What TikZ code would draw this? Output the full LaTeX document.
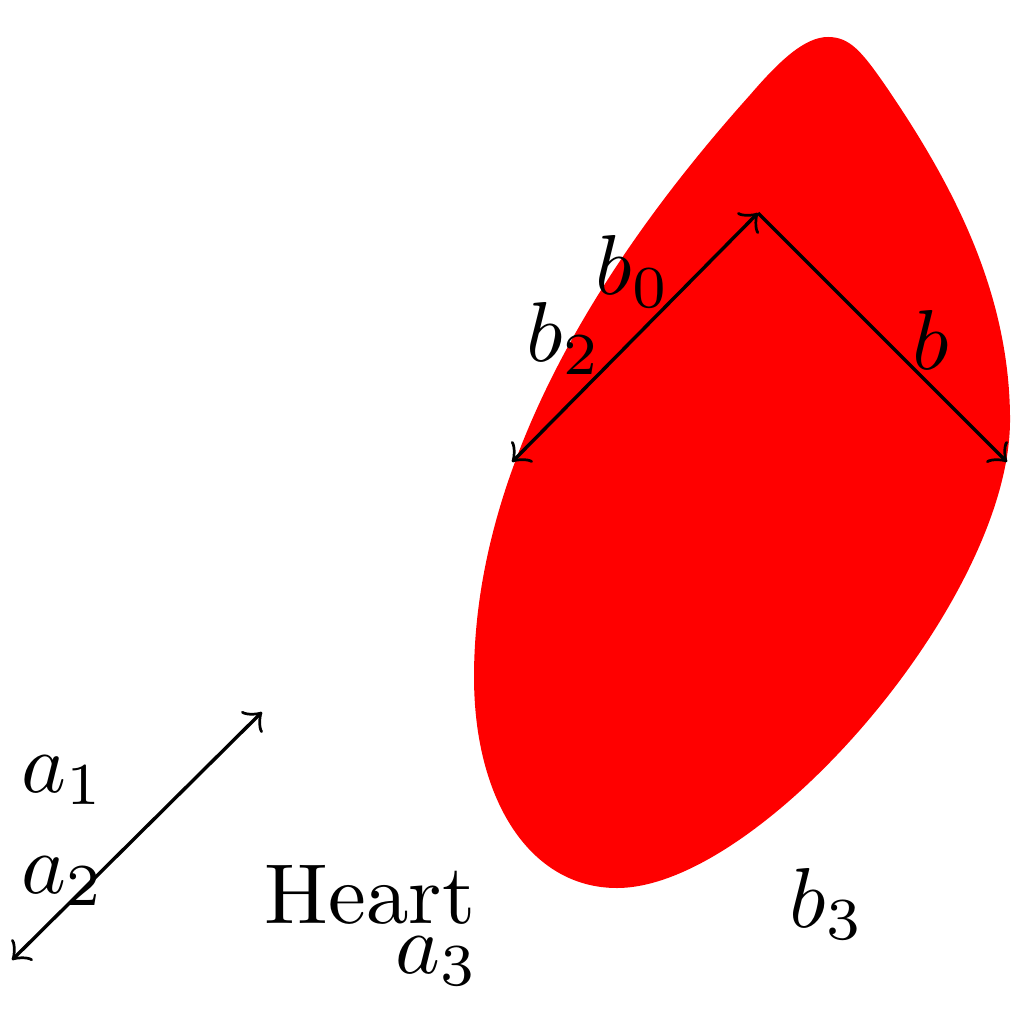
\documentclass[tikz,border=0pt]{standalone}
\begin{document}
\begin{tikzpicture}[x=0.1176pt,y=-0.1176pt,
  lbl/.style={inner sep=0pt,anchor=base west},
  arr/.style={line width=0.4pt}]
\useasboundingbox (0,0) rectangle (1024,1024);
\fill[red] (828,37) .. controls (805,37) and (780,60) .. (750,95)
  .. controls (620,240) and (474,450) .. (474,677)
  .. controls (474,800) and (530,888) .. (617,888)
  .. controls (760,888) and (1010,600) .. (1010,420)
  .. controls (1010,290) and (950,180) .. (885,85)
  .. controls (862,52) and (850,37) .. (828,37) -- cycle;
\coordinate (T) at (758,213);
\coordinate (L) at (512,462);
\coordinate (R) at (1007,462);
\coordinate (A1) at (12,960);
\coordinate (A2) at (262,712);
\draw[arr,<->] (L) -- (T);
\draw[arr,->] (T) -- (R);
\draw[arr,<->] (A1) -- (A2);
\node[lbl] (la1) at (20,792) {$a_1$};
\node[lbl] (la2) at (20,893) {$a_2$};
\node[lbl] (heart) at (263,923) {Heart};
\node[lbl] (la3) at (394,973) {$a_3$};
\node[lbl] (lb3) at (788,927) {$b_3$};
\node[lbl] (lb) at (911,370) {$b$};
\node[lbl] (lb2) at (525,362) {$b_2$};
\node[lbl] (lb0) at (594,295) {$b_0$};
\end{tikzpicture}
\end{document}
